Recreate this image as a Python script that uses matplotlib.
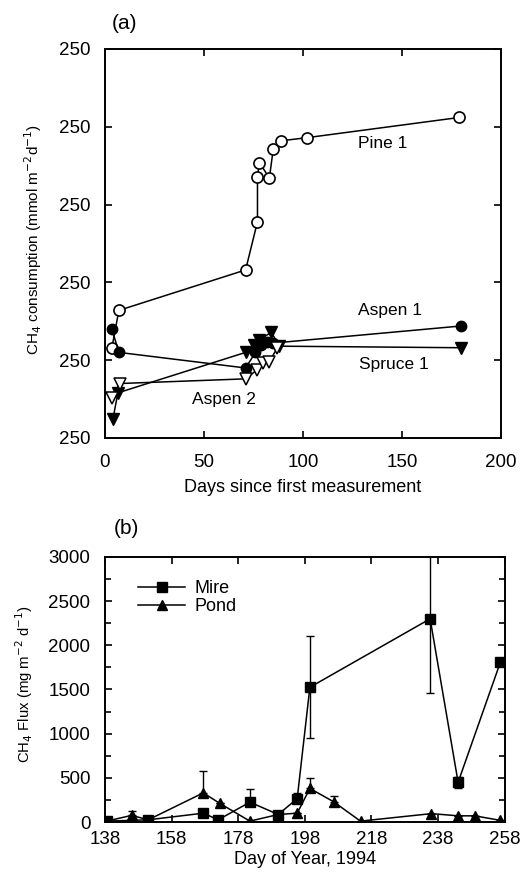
import numpy as np
import matplotlib
matplotlib.use("Agg")
import matplotlib.pyplot as plt
from matplotlib.ticker import MultipleLocator
from matplotlib.lines import Line2D

plt.rcParams['font.family'] = ['Liberation Sans', 'DejaVu Sans']

# (a) methane consumption, days since first measurement
pine1_x = [3.5, 7, 71, 77, 77, 78, 83, 85, 89, 102, 179]
pine1_y = [58, 82, 108, 139, 168, 177, 167, 186, 191, 193, 206]
aspen1_x = [3.5, 7, 71, 76, 79, 82, 85, 180]
aspen1_y = [70, 55, 45, 55, 60, 62, 61, 72]
spruce1_x = [4, 6.5, 71, 75, 78, 84, 88, 180]
spruce1_y = [12, 29, 55, 60, 63, 68, 59, 58]
aspen2_x = [3.5, 7.5, 71, 77, 80, 83, 87]
aspen2_y = [26, 35, 38, 44, 48, 49, 58]
ytick_vals = [0, 50, 100, 150, 200, 250]
ytick_labels = ['250', '250', '250', '250', '250', '250']

# (b) CH4 flux, day of year 1994
mire_x = [138.5, 151, 167.5, 172, 181.5, 190, 195.7, 199.5, 235.6, 244, 256.7]
mire_y = [10, 25, 100, 25, 225, 85, 265, 1525, 2300, 450, 1810]
mire_up = [0, 0, 0, 0, 150, 0, 65, 575, 840, 60, 0]
mire_lo = [0, 0, 0, 0, 0, 0, 0, 575, 840, 60, 0]
pond_x = [138.5, 146, 151, 167.5, 172.5, 181.5, 190, 195.7, 199.5, 206.6,
          214.7, 236, 244, 249, 256.5]
pond_y = [10, 75, 25, 330, 210, 10, 85, 100, 380, 230, 10, 95, 70, 70, 20]
pond_up = [0, 55, 0, 250, 0, 0, 0, 0, 120, 70, 0, 0, 0, 0, 0]
pond_lo = [0] * len(pond_up)

fig = plt.figure(figsize=(5.26, 8.73), dpi=100)
lw = 1.1

# ---- panel (a)
ax1 = fig.add_axes([0.1996, 0.4983, 0.753, 0.4456])
ax1.plot(pine1_x, pine1_y, '-o', color='black', mfc='white', mec='black',
         ms=8, lw=lw, mew=1.2)
ax1.plot(aspen1_x, aspen1_y, '-o', color='black', ms=7.5, lw=lw)
ax1.plot(spruce1_x, spruce1_y, '-v', color='black', ms=8, lw=lw)
ax1.plot(aspen2_x, aspen2_y, '-v', color='black', mfc='white', mec='black',
         ms=8, lw=lw, mew=1.1)
ax1.set_xlim(0, 200)
ax1.set_ylim(0, 250)
ax1.set_xticks([0, 50, 100, 150, 200])
ax1.set_yticks(ytick_vals)
ax1.set_yticklabels(ytick_labels)
ax1.tick_params(direction='in', top=True, right=True, length=5, width=1.2,
                labelsize=13.5)
ax1.tick_params(axis='y', pad=10.5)
ax1.tick_params(axis='x', pad=11.5)
ax1.set_xlabel('Days since first measurement', fontsize=13)
ax1.xaxis.set_label_coords(0.5, -0.106)
ax1.set_ylabel('CH$_4$ consumption (mmol m$^{-2}$d$^{-1}$)', fontsize=11)
ax1.yaxis.set_label_coords(-0.155, 0.509)
for s in ax1.spines.values():
    s.set_linewidth(1.4)
ax1.text(140, 189, 'Pine 1', fontsize=12.5, ha='center', va='center')
ax1.text(144, 82, 'Aspen 1', fontsize=12.5, ha='center', va='center')
ax1.text(146, 47, 'Spruce 1', fontsize=12.5, ha='center', va='center')
ax1.text(60, 25, 'Aspen 2', fontsize=12.5, ha='center', va='center')
fig.text(0.236, 0.973, '(a)', fontsize=15, ha='center', va='center')

# ---- panel (b)
ax2 = fig.add_axes([0.1996, 0.0584, 0.760, 0.3036])
ax2.errorbar(mire_x, mire_y, yerr=[mire_lo, mire_up], fmt='none',
             ecolor='black', elinewidth=1.0, capsize=3)
ax2.errorbar(pond_x, pond_y, yerr=[pond_lo, pond_up], fmt='none',
             ecolor='black', elinewidth=1.0, capsize=3)
ax2.plot(mire_x, mire_y, '-s', color='black', ms=7, lw=lw)
ax2.plot(pond_x, pond_y, '-^', color='black', ms=7, lw=lw)
ax2.set_xlim(138, 258)
ax2.set_ylim(0, 3000)
ax2.set_xticks([138, 158, 178, 198, 218, 238, 258])
ax2.yaxis.set_major_locator(MultipleLocator(500))
ax2.yaxis.set_minor_locator(MultipleLocator(250))
ax2.tick_params(which='both', direction='in', top=True, right=True, width=1.2,
                labelsize=13.5)
ax2.tick_params(which='major', length=5)
ax2.tick_params(which='minor', length=4)
ax2.tick_params(axis='y', pad=10.5)
ax2.tick_params(axis='x', pad=6.5)
ax2.set_xlabel('Day of Year, 1994', fontsize=13)
ax2.xaxis.set_label_coords(0.5, -0.108)
ax2.set_ylabel('CH$_4$ Flux (mg m$^{-2}$ d$^{-1}$)', fontsize=10.7)
ax2.yaxis.set_label_coords(-0.175, 0.52)
for s in ax2.spines.values():
    s.set_linewidth(1.4)
handles = [Line2D([], [], color='black', marker='s', ms=7, lw=lw),
           Line2D([], [], color='black', marker='^', ms=7, lw=lw)]
ax2.legend(handles, ['Mire', 'Pond'], loc='upper left', frameon=False,
           fontsize=13, handlelength=2.6, handletextpad=0.5,
           labelspacing=0.05, bbox_to_anchor=(0.065, 0.94), borderaxespad=0)
fig.text(0.24, 0.395, '(b)', fontsize=15, ha='center', va='center')

fig.savefig('out.png', dpi=100)
